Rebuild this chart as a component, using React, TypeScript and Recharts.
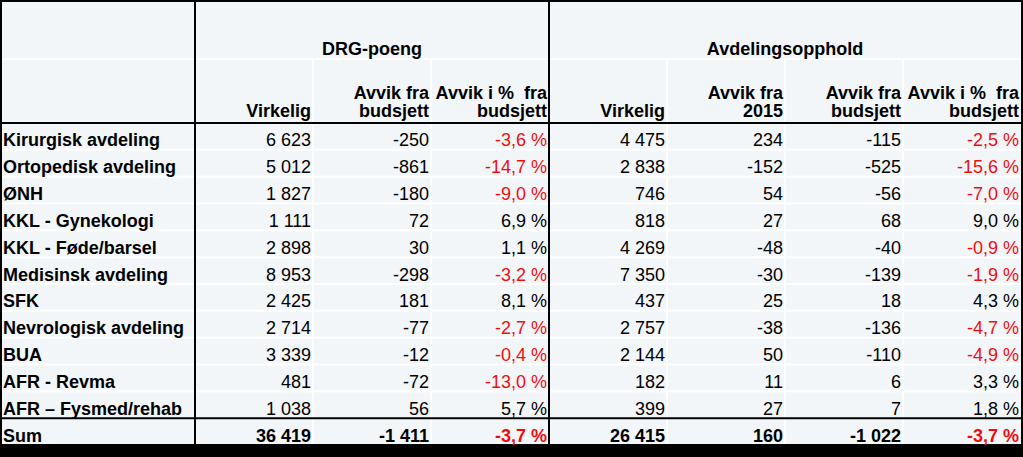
import React from 'react';
import { ScatterChart, Scatter, XAxis, YAxis, Customized } from 'recharts';

// rows of the table
const departments = [
  'Kirurgisk avdeling',
  'Ortopedisk avdeling',
  'ØNH',
  'KKL - Gynekologi',
  'KKL - Føde/barsel',
  'Medisinsk avdeling',
  'SFK',
  'Nevrologisk avdeling',
  'BUA',
  'AFR - Revma',
  'AFR – Fysmed/rehab',
  'Sum',
];

const groupTitles = ['DRG-poeng', 'Avdelingsopphold'];
const groupSpans = [3, 4];

const columnIds = ['drgVirkelig', 'drgAvvikBudsjett', 'drgAvvikPct', 'avdVirkelig', 'avdAvvik2015', 'avdAvvikBudsjett', 'avdAvvikPct'];
const columnHeaders = [
  ['', 'Virkelig'],
  ['Avvik fra', 'budsjett'],
  ['Avvik i %\u00A0 fra', 'budsjett'],
  ['', 'Virkelig'],
  ['Avvik fra', '2015'],
  ['Avvik fra', 'budsjett'],
  ['Avvik i %\u00A0 fra', 'budsjett'],
];
const pctColumns = [false, false, true, false, false, false, true];

// DRG-poeng
const drgVirkelig = [6623, 5012, 1827, 1111, 2898, 8953, 2425, 2714, 3339, 481, 1038, 36419];
const drgAvvikBudsjett = [-250, -861, -180, 72, 30, -298, 181, -77, -12, -72, 56, -1411];
const drgAvvikPct = [-3.6, -14.7, -9.0, 6.9, 1.1, -3.2, 8.1, -2.7, -0.4, -13.0, 5.7, -3.7];

// Avdelingsopphold
const avdVirkelig = [4475, 2838, 746, 818, 4269, 7350, 437, 2757, 2144, 182, 399, 26415];
const avdAvvik2015 = [234, -152, 54, 27, -48, -30, 25, -38, 50, 11, 27, 160];
const avdAvvikBudsjett = [-115, -525, -56, 68, -40, -139, 18, -136, -110, 6, 7, -1022];
const avdAvvikPct = [-2.5, -15.6, -7.0, 9.0, -0.9, -1.9, 4.3, -4.7, -4.9, 3.3, 1.8, -3.7];

const columnValues = [drgVirkelig, drgAvvikBudsjett, drgAvvikPct, avdVirkelig, avdAvvik2015, avdAvvikBudsjett, avdAvvikPct];

// layout
const W = 1023;
const H = 457;
const LABEL_W = 195;
const HEADER_H = 123;
const GROUP_H = 59;
const RIGHT = 2;
const BOTTOM = 12;
const COL_W = (W - LABEL_W - RIGHT) / columnIds.length;
const ROW_H = (H - HEADER_H - BOTTOM) / departments.length;
const FONT = '"Liberation Sans", Arial, sans-serif';
const RED = '#f20d0d';

const fmtInt = (v: number) => {
  const s = String(Math.abs(v)).replace(/\B(?=(\d{3})+(?!\d))/g, ' ');
  return (v < 0 ? '-' : '') + s;
};
const fmtPct = (v: number) => (v < 0 ? '-' : '') + Math.abs(v).toFixed(1).replace('.', ',') + ' %';

const cells = departments.flatMap((dep, r) =>
  columnIds.map((col, c) => ({
    dep,
    col,
    value: columnValues[c][r],
    pct: pctColumns[c],
    bold: dep === 'Sum',
  }))
);

const CellText = (props: any) => {
  const { cx, cy, payload } = props;
  const p = payload;
  const txt = p.pct ? fmtPct(p.value) : fmtInt(p.value);
  return (
    <text
      x={cx + COL_W / 2 - 2}
      y={cy + 10}
      textAnchor="end"
      fontFamily={FONT}
      fontSize={18}
      fontWeight={p.bold ? 'bold' : 'normal'}
      fill={p.pct && p.value < 0 ? RED : '#000'}
    >
      {txt}
    </text>
  );
};

const HeaderTick = (props: any) => {
  const { x, index } = props;
  const lines = columnHeaders[index];
  const right = x + COL_W / 2 - 2;
  return (
    <g fontFamily={FONT} fontSize={18} fontWeight="bold" fill="#000" textAnchor="end">
      <text x={right} y={HEADER_H - 24}>{lines[0]}</text>
      <text x={right} y={HEADER_H - 6}>{lines[1]}</text>
    </g>
  );
};

const RowTick = (props: any) => {
  const { y, payload } = props;
  return (
    <text x={3} y={y + 10} fontFamily={FONT} fontSize={18} fontWeight="bold" fill="#000" textAnchor="start">
      {payload.value}
    </text>
  );
};

const TableLines = () => {
  const white: React.ReactNode[] = [];
  const black: React.ReactNode[] = [];
  white.push(<line key="g" x1={0} x2={W} y1={GROUP_H} y2={GROUP_H} />);
  for (let c = 1; c < columnIds.length; c++) {
    const x = LABEL_W + c * COL_W;
    if (c === groupSpans[0]) {
      black.push(<line key={'bv' + c} x1={x} x2={x} y1={0} y2={H - BOTTOM} />);
    } else {
      white.push(<line key={'v' + c} x1={x} x2={x} y1={GROUP_H} y2={H - BOTTOM} />);
    }
  }
  for (let r = 1; r < departments.length; r++) {
    const y = HEADER_H + r * ROW_H;
    if (r === departments.length - 1) {
      black.push(<line key={'bh' + r} x1={0} x2={W} y1={y} y2={y} />);
    } else {
      white.push(<line key={'h' + r} x1={0} x2={W} y1={y} y2={y} />);
    }
  }
  black.push(<line key="hh" x1={0} x2={W} y1={HEADER_H} y2={HEADER_H} />);
  black.push(<line key="lv" x1={LABEL_W} x2={LABEL_W} y1={0} y2={H - BOTTOM} />);
  const g1 = LABEL_W + (groupSpans[0] * COL_W) / 2;
  const g2 = LABEL_W + groupSpans[0] * COL_W + (groupSpans[1] * COL_W) / 2;
  return (
    <g>
      <rect x={0} y={0} width={W} height={H} fill="#f3f6f9" />
      <g stroke="#ffffff" strokeWidth={2}>{white}</g>
      <g stroke="#000" strokeWidth={2}>{black}</g>
      <rect x={1} y={1} width={W - RIGHT} height={H - BOTTOM - 1} fill="none" stroke="#000" strokeWidth={2} />
      <rect x={0} y={H - BOTTOM} width={W} height={BOTTOM} fill="#000" />
      <g fontFamily={FONT} fontSize={18} fontWeight="bold" fill="#000" textAnchor="middle">
        <text x={g1} y={55}>{groupTitles[0]}</text>
        <text x={g2} y={55}>{groupTitles[1]}</text>
      </g>
    </g>
  );
};

export default function App() {
  return (
    <div style={{ position: 'absolute', left: 0, top: 0, width: W, height: H, background: '#f3f6f9' }}>
      <ScatterChart width={W} height={H} margin={{ top: 0, right: RIGHT, bottom: BOTTOM, left: 0 }}>
        <Customized component={TableLines} />
        <XAxis
          dataKey="col"
          type="category"
          orientation="top"
          allowDuplicatedCategory={false}
          height={HEADER_H}
          axisLine={false}
          tickLine={false}
          tickSize={0}
          tick={<HeaderTick />}
          interval={0}
        />
        <YAxis
          dataKey="dep"
          type="category"
          allowDuplicatedCategory={false}
          width={LABEL_W}
          axisLine={false}
          tickLine={false}
          tickSize={0}
          tick={<RowTick />}
          interval={0}
          reversed
        />
        <Scatter data={cells} shape={<CellText />} isAnimationActive={false} />
      </ScatterChart>
    </div>
  );
}
